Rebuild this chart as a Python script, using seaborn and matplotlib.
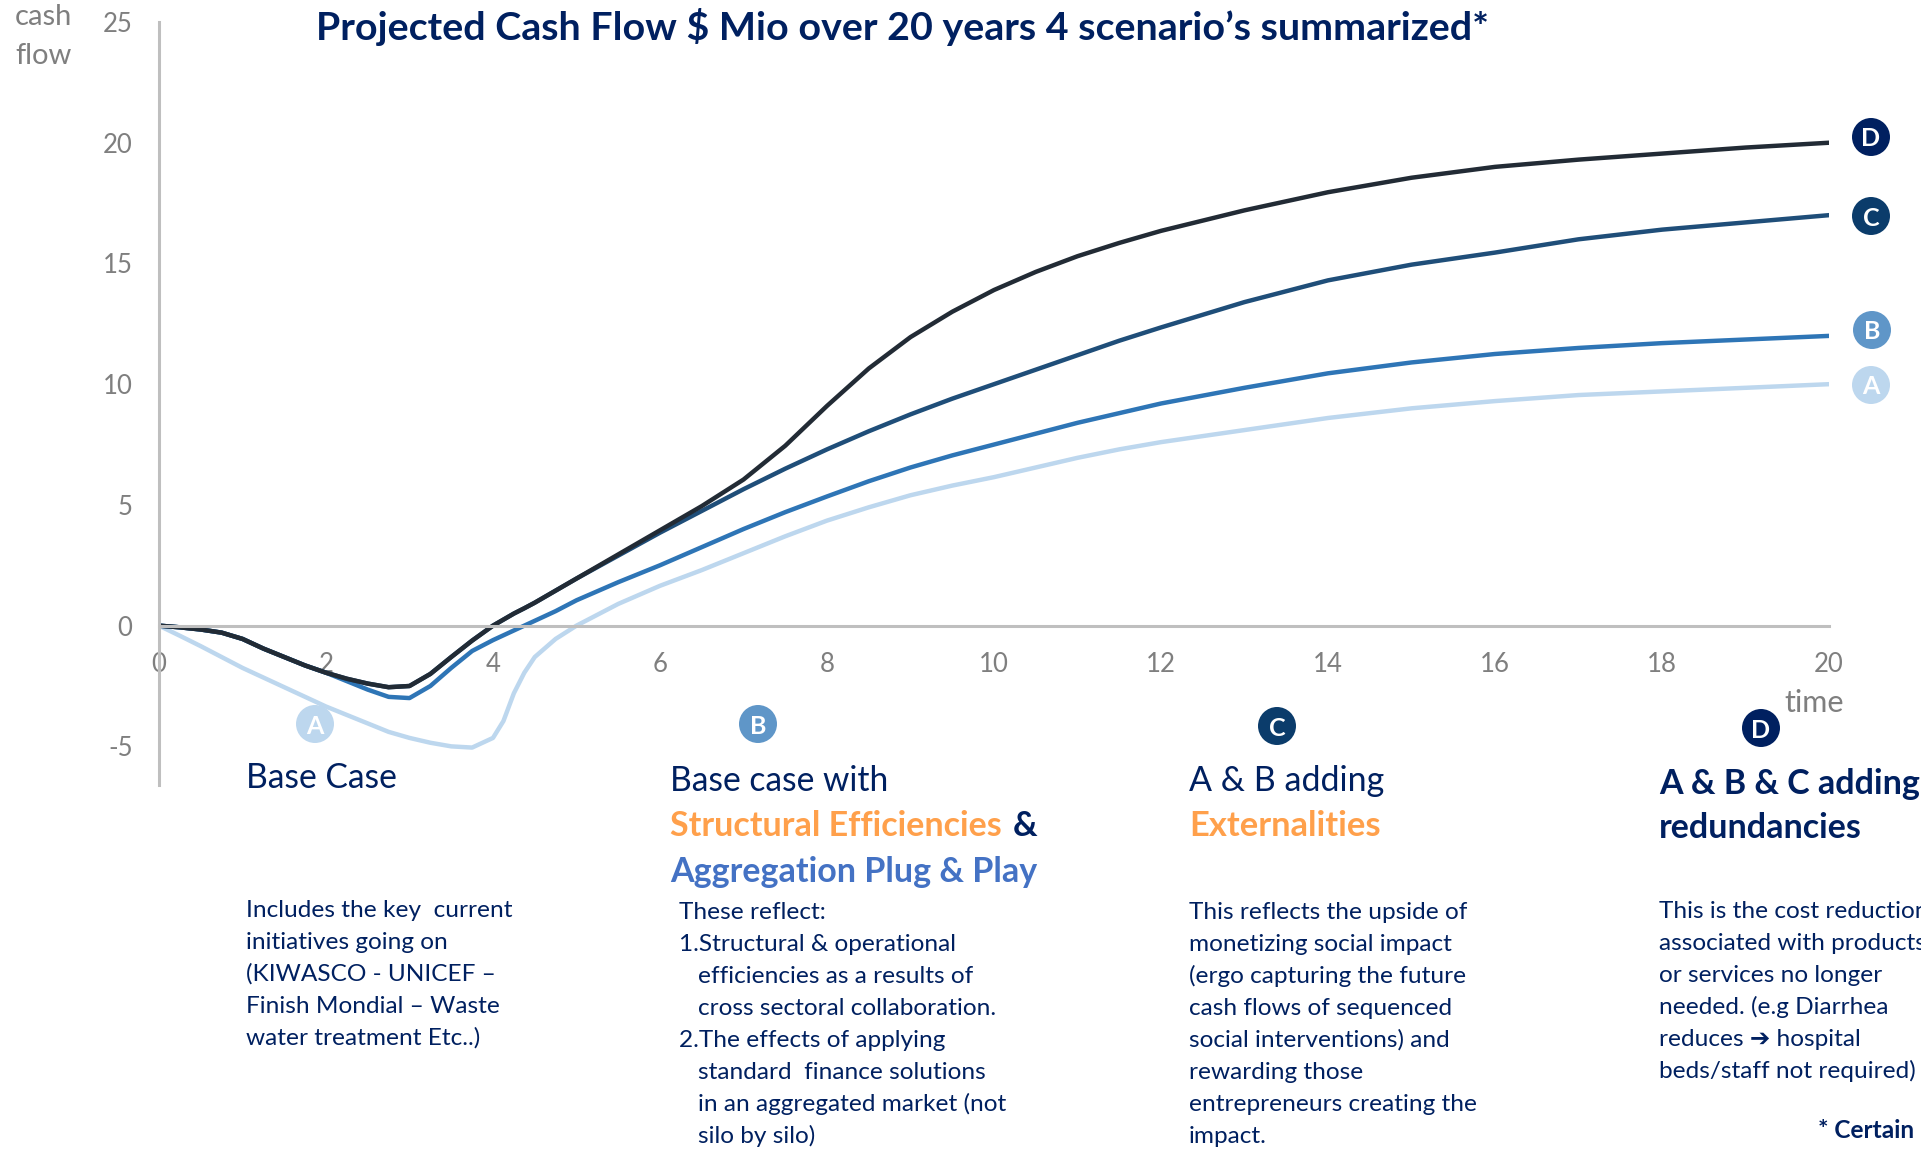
"""Projected cash flow over 20 years, four scenarios."""

import matplotlib.pyplot as plt
import pandas as pd
import seaborn as sns
from matplotlib.patches import Circle
from matplotlib.transforms import IdentityTransform

WIDTH = 1921
HEIGHT = 1152

YEARS = [0, 0.25, 0.5, 0.75, 1, 1.25, 1.5, 1.75, 2, 2.25, 2.5, 2.75, 3, 3.25, 3.5, 3.75, 4,
         4.125, 4.25, 4.375, 4.5, 4.75, 5,
         5.5, 6, 6.5, 7, 7.5, 8, 8.5, 9, 9.5, 10, 10.5, 11, 11.5, 12,
         13, 14, 15, 16, 17, 18, 19, 20]
CASE_A = [0, -0.42, -0.85, -1.3, -1.75, -2.15, -2.55, -2.95, -3.35, -3.7, -4.05, -4.4, -4.65, -4.85, -5.0, -5.05, -4.65,
          -3.95, -2.8, -1.95, -1.3, -0.55, 0,
          0.9, 1.65, 2.3, 3.0, 3.7, 4.35, 4.9, 5.4, 5.8, 6.15, 6.55, 6.95, 7.3, 7.6,
          8.1, 8.6, 9.0, 9.3, 9.55, 9.7, 9.85, 10]
CASE_B = [0, -0.07, -0.16, -0.29, -0.55, -0.95, -1.3, -1.65, -1.95, -2.3, -2.65, -2.95, -3.0, -2.5, -1.75, -1.05, -0.6,
          -0.4, -0.2, 0, 0.2, 0.6, 1.05,
          1.8, 2.5, 3.25, 4.0, 4.7, 5.35, 5.98, 6.55, 7.05, 7.5, 7.95, 8.4, 8.8, 9.2,
          9.85, 10.45, 10.9, 11.25, 11.5, 11.7, 11.85, 12]
CASE_C = [0, -0.07, -0.16, -0.29, -0.55, -0.95, -1.3, -1.65, -1.95, -2.2, -2.4, -2.55, -2.5, -2.0, -1.3, -0.62, 0,
          0.25, 0.5, 0.72, 0.95, 1.45, 1.95,
          2.9, 3.85, 4.75, 5.65, 6.5, 7.3, 8.05, 8.75, 9.4, 10.0, 10.6, 11.2, 11.8, 12.35,
          13.4, 14.3, 14.95, 15.45, 16.0, 16.4, 16.7, 17]
CASE_D = [0, -0.07, -0.16, -0.29, -0.55, -0.95, -1.3, -1.65, -1.95, -2.2, -2.4, -2.55, -2.5, -2.0, -1.3, -0.62, 0,
          0.25, 0.5, 0.72, 0.95, 1.45, 1.95,
          2.95, 3.95, 4.95, 6.05, 7.45, 9.1, 10.65, 11.95, 13.0, 13.9, 14.65, 15.3, 15.85, 16.35,
          17.2, 17.95, 18.55, 19, 19.3, 19.55, 19.8, 20]

X_TICKS = [0, 2, 4, 6, 8, 10, 12, 14, 16, 18, 20]
Y_TICKS = [-5, 0, 5, 10, 15, 20, 25]

LINE_COLORS = {"A": "#BDD7EE", "B": "#2E75B6", "C": "#1F4E79", "D": "#222B35"}
BADGE_COLORS = {"A": "#BDD7EE", "B": "#5F96C8", "C": "#0B3C6B", "D": "#002060"}

NAVY = "#002060"
ORANGE = "#FFA04B"
BLUE = "#4472C4"
GREY = "#7F7F7F"
FONT = ["Lato", "DejaVu Sans"]

TITLE = "Projected Cash Flow $ Mio over 20 years 4 scenario\u2019s summarized*"

BODY_A = [
    "Includes the key  current",
    "initiatives going on",
    "(KIWASCO - UNICEF \u2013",
    "Finish Mondial \u2013 Waste",
    "water treatment Etc..)",
]
BODY_B = [
    (679, "These reflect:"),
    (679, "1.Structural & operational"),
    (698, "efficiencies as a results of"),
    (698, "cross sectoral collaboration."),
    (679, "2.The effects of applying"),
    (698, "standard  finance solutions"),
    (698, "in an aggregated market (not"),
    (698, "silo by silo)"),
]
BODY_C = [
    "This reflects the upside of",
    "monetizing social impact",
    "(ergo capturing the future",
    "cash flows of sequenced",
    "social interventions) and",
    "rewarding those",
    "entrepreneurs creating the",
    "impact.",
]
BODY_D = [
    "This is the cost reduction",
    "associated with products",
    "or services no longer",
    "needed. (e.g Diarrhea",
    "reduces \u2794 hospital",
    "beds/staff not required)",
]


def build_frame() -> pd.DataFrame:
    frame = pd.DataFrame({"Year": YEARS, "A": CASE_A, "B": CASE_B, "C": CASE_C, "D": CASE_D})
    return frame.melt(id_vars="Year", var_name="Scenario", value_name="Cash_Flow")


def put_text(fig, x, y, text, size=17.6, color=NAVY, weight="normal"):
    fig.text(x / WIDTH, 1 - y / HEIGHT, text, fontsize=size, color=color, fontweight=weight,
             family=FONT, ha="left", va="baseline")


def put_badge(fig, x, y, letter):
    fig.add_artist(Circle((x, HEIGHT - y), 19, color=BADGE_COLORS[letter], transform=IdentityTransform(), lw=0))
    fig.text(x / WIDTH, 1 - y / HEIGHT, letter, fontsize=18, color="white", fontweight="bold",
             family=FONT, ha="center", va="center_baseline")


def plot_lines(fig) -> None:
    ax = fig.add_axes([159 / WIDTH, 1 - 785 / HEIGHT, (1829 - 159) / WIDTH, (785 - 22) / HEIGHT])
    sns.lineplot(
        data=build_frame(),
        x="Year",
        y="Cash_Flow",
        hue="Scenario",
        palette=LINE_COLORS,
        linewidth=3.2,
        legend=False,
        ax=ax,
    )
    ax.set_xlim(0, 20)
    ax.set_ylim(-6.6, 25)
    ax.set_xticks(X_TICKS)
    ax.set_yticks(Y_TICKS)
    ax.set_xlabel("")
    ax.set_ylabel("")
    ax.tick_params(axis="x", length=0, pad=19, labelsize=18.5, labelcolor=GREY)
    ax.tick_params(axis="y", length=0, pad=19, labelsize=18.5, labelcolor=GREY)
    ax.grid(False)
    for side in ["top", "right"]:
        ax.spines[side].set_visible(False)
    ax.spines["bottom"].set_position(("data", 0))
    for side in ["left", "bottom"]:
        ax.spines[side].set_color("#BFBFBF")
        ax.spines[side].set_linewidth(2.2)
    for label in ax.get_xticklabels() + ax.get_yticklabels():
        label.set_family(FONT)


def add_texts(fig) -> None:
    put_text(fig, 316, 40, TITLE, size=28.4, weight="bold")
    put_text(fig, 15, 25, "cash", size=21, color=GREY)
    put_text(fig, 15, 64, "flow", size=21, color=GREY)
    put_text(fig, 1784, 712, "time", size=22, color=GREY)

    put_text(fig, 246, 788, "Base Case", size=24.2)
    for i, line in enumerate(BODY_A):
        put_text(fig, 246, 917 + 32 * i, line)

    put_text(fig, 670, 791, "Base case with", size=24.2)
    put_text(fig, 670, 836, "Structural Efficiencies", size=24.5, color=ORANGE, weight="bold")
    put_text(fig, 1013, 836, "&", size=24.5, weight="bold")
    put_text(fig, 670, 882, "Aggregation Plug & Play", size=24.5, color=BLUE, weight="bold")
    for i, (x, line) in enumerate(BODY_B):
        put_text(fig, x, 919 + 32 * i, line)

    put_text(fig, 1189, 791, "A & B adding", size=24.5)
    put_text(fig, 1189, 836, "Externalities", size=24.8, color=ORANGE, weight="bold")
    for i, line in enumerate(BODY_C):
        put_text(fig, 1189, 919 + 32 * i, line)

    put_text(fig, 1659, 794, "A & B & C adding", size=24.5, weight="bold")
    put_text(fig, 1659, 838, "redundancies", size=24.5, weight="bold")
    for i, line in enumerate(BODY_D):
        put_text(fig, 1659, 918 + 32 * i, line)
    put_text(fig, 1818, 1138, "* Certain", weight="bold")

    for x, y, letter in [(1871, 137, "D"), (1871, 216, "C"), (1872, 330, "B"), (1871, 385, "A"),
                         (315, 724, "A"), (758, 724, "B"), (1277, 726, "C"), (1761, 728, "D")]:
        put_badge(fig, x, y, letter)


def main() -> None:
    sns.set_theme(style="white")
    plt.rcParams["font.family"] = FONT
    plt.rcParams["axes.unicode_minus"] = False
    fig = plt.figure(figsize=(WIDTH / 100, HEIGHT / 100), dpi=100)
    plot_lines(fig)
    add_texts(fig)
    fig.savefig("out.png", dpi=100)


if __name__ == "__main__":
    main()
